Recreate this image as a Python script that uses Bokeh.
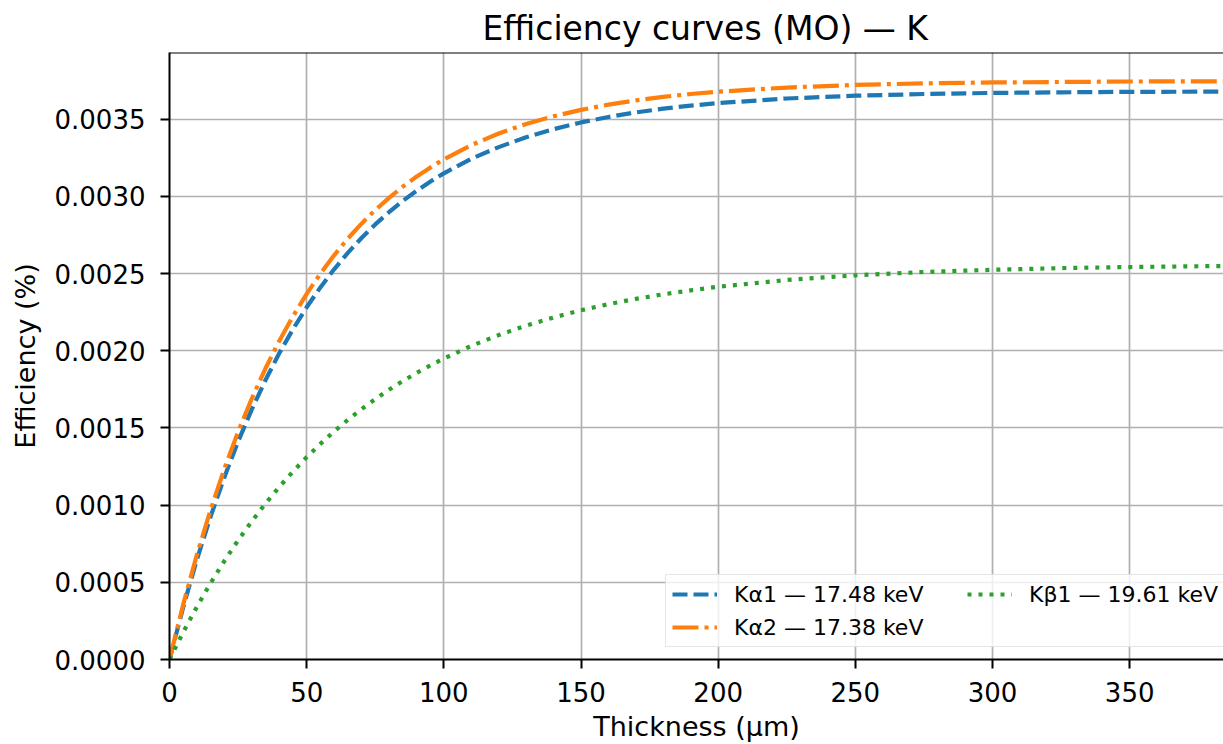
from bokeh.plotting import figure
from bokeh.models import (ColumnDataSource, FixedTicker, PrintfTickFormatter, Legend,
                          LegendItem, Range1d, Span)
from bokeh.embed import file_html
from bokeh.resources import INLINE

# ---- data ----
thickness_um = [0, 5, 10, 15, 20, 25, 30, 35, 40, 45, 50, 55, 60, 65, 70, 75, 80, 85, 90,
                95, 100, 110, 120, 130, 140, 150, 160, 170, 180, 190, 200, 225, 250, 275,
                300, 325, 350, 375, 400]
ka1_eff = [0.0, 0.000339, 0.000648, 0.000927, 0.001181, 0.001412, 0.001621, 0.001811,
           0.001984, 0.002140, 0.002282, 0.002411, 0.002528, 0.002635, 0.002731, 0.002819,
           0.002898, 0.002971, 0.003036, 0.003096, 0.003150, 0.003244, 0.003320, 0.003384,
           0.003436, 0.003480, 0.003515, 0.003545, 0.003569, 0.003589, 0.003605, 0.003635,
           0.003653, 0.003664, 0.003671, 0.003675, 0.003678, 0.003679, 0.003680]
ka2_eff = [0.0, 0.000357, 0.000680, 0.000971, 0.001236, 0.001475, 0.001691, 0.001887,
           0.002064, 0.002224, 0.002369, 0.002500, 0.002619, 0.002727, 0.002824, 0.002912,
           0.002991, 0.003063, 0.003128, 0.003187, 0.003241, 0.003333, 0.003408, 0.003470,
           0.003520, 0.003561, 0.003595, 0.003623, 0.003646, 0.003664, 0.003679, 0.003706,
           0.003723, 0.003733, 0.003739, 0.003742, 0.003745, 0.003746, 0.003747]
kb1_eff = [0.0, 0.000177, 0.000342, 0.000496, 0.000638, 0.000772, 0.000895, 0.001011,
           0.001118, 0.001218, 0.001311, 0.001397, 0.001478, 0.001553, 0.001622, 0.001687,
           0.001748, 0.001804, 0.001856, 0.001905, 0.001950, 0.002032, 0.002102, 0.002163,
           0.002216, 0.002263, 0.002302, 0.002337, 0.002366, 0.002392, 0.002415, 0.002459,
           0.002489, 0.002511, 0.002525, 0.002536, 0.002543, 0.002548, 0.002552]
series_labels = ["Kα1 — 17.48 keV", "Kα2 — 17.38 keV", "Kβ1 — 19.61 keV"]
x_ticks = [0, 50, 100, 150, 200, 250, 300, 350]
y_ticks = [0.0, 0.0005, 0.0010, 0.0015, 0.0020, 0.0025, 0.0030, 0.0035]
x_end = 384.2
y_end = 0.003933

FONT = "DejaVu Sans"

src = ColumnDataSource(dict(t=thickness_um, a1=ka1_eff, a2=ka2_eff, b1=kb1_eff))

p = figure(width=1223, height=744, output_backend="svg", toolbar_location=None,
           x_range=Range1d(0, x_end), y_range=Range1d(0, y_end),
           min_border_left=169, min_border_right=0, min_border_top=52,
           min_border_bottom=84,
           title="Efficiency curves (MO) — K")

p.title.text_font = FONT
p.title.text_font_size = "33px"
p.title.text_font_style = "normal"
p.title.align = "left"
p.title.offset = 313
p.title.standoff = 10
p.title.text_color = "black"

p.outline_line_color = None
p.background_fill_color = "white"
p.border_fill_color = "white"

# grid
for g in (p.xgrid, p.ygrid):
    g.grid_line_color = "#b0b0b0"
    g.grid_line_width = 1.7
p.xgrid.ticker = FixedTicker(ticks=x_ticks)
p.ygrid.ticker = FixedTicker(ticks=y_ticks)

# axes
p.xaxis.ticker = FixedTicker(ticks=x_ticks)
p.yaxis.ticker = FixedTicker(ticks=y_ticks)
p.yaxis.formatter = PrintfTickFormatter(format="%.4f")
p.xaxis.axis_label = "Thickness (µm)"
p.yaxis.axis_label = "Efficiency (%)"
for ax in (p.xaxis, p.yaxis):
    ax.axis_line_color = "black"
    ax.axis_line_width = 2
    ax.major_tick_line_color = "black"
    ax.major_tick_line_width = 2
    ax.major_tick_out = 9
    ax.major_tick_in = 0
    ax.minor_tick_line_color = None
    ax.major_label_text_font = FONT
    ax.major_label_text_font_size = "26px"
    ax.major_label_text_color = "black"
    ax.axis_label_text_font = FONT
    ax.axis_label_text_font_size = "27px"
    ax.axis_label_text_font_style = "normal"
    ax.axis_label_text_color = "black"
p.xaxis.major_label_standoff = 13
p.yaxis.major_label_standoff = 15
p.xaxis.axis_label_standoff = 6
p.yaxis.axis_label_standoff = 11

# top border of the axes box
p.add_layout(Span(location=y_end, dimension="width", line_color="black", line_width=2))

r1 = p.line("t", "a1", source=src, line_color="#1f77b4", line_width=4.2,
            line_dash="15 6")
r2 = p.line("t", "a2", source=src, line_color="#ff7f0e", line_width=4.2,
            line_dash="26 6 4 6")
r3 = p.line("t", "b1", source=src, line_color="#2ca02c", line_width=4.2,
            line_dash="4 7")

legend = Legend(items=[LegendItem(label=series_labels[0], renderers=[r1]),
                       LegendItem(label=series_labels[1], renderers=[r2]),
                       LegendItem(label=series_labels[2], renderers=[r3])],
                location=(496, 12), orientation="vertical", nrows=2)
legend.label_text_font = FONT
legend.label_text_font_size = "22px"
legend.label_text_color = "black"
legend.glyph_width = 45
legend.glyph_height = 26
legend.label_height = 26
legend.label_width = 226
legend.label_standoff = 17
legend.spacing = 7
legend.padding = 6
legend.margin = 0
legend.background_fill_color = "white"
legend.background_fill_alpha = 0.8
legend.border_line_color = "#cccccc"
legend.border_line_width = 1.5
p.add_layout(legend, "center")

open("out.html", "w").write(file_html(p, INLINE))
